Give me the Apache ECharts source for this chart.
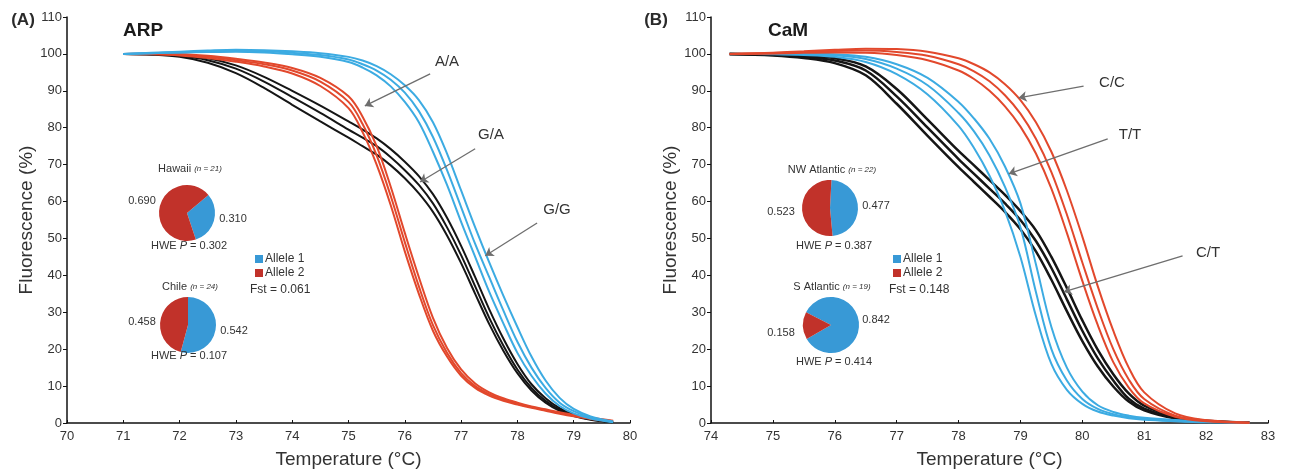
<!DOCTYPE html>
<html>
<head>
<meta charset="utf-8">
<script src="https://cdn.jsdelivr.net/npm/echarts@6/dist/echarts.min.js"></script>
<style>
  html, body { margin: 0; background: #fff; }
  #main { width: 1293px; height: 472px; }
</style>
</head>
<body>
<div id="main"></div>
<script>
// (A) ARP melting curves, temperature grid and replicate values (%)
var tempA = [71, 71.5, 72, 72.5, 73, 73.5, 74, 74.5, 75, 75.25, 75.5, 75.75, 76, 76.25, 76.5, 76.75, 77, 77.25, 77.5, 77.75, 78, 78.25, 78.5, 78.75, 79, 79.3, 79.7];
var ggA1 = [100, 100.2, 100.4, 100.5, 100.6, 100.4, 99.9, 99.2, 97.8, 96.3, 94.2, 91.2, 87, 81.5, 73.5, 64.5, 54.5, 45, 35.5, 27, 19, 12.8, 8, 4.6, 2.6, 1.2, 0.2];
var ggA2 = [100, 100.2, 100.4, 100.6, 100.8, 100.7, 100.3, 99.7, 98.5, 97.2, 95.5, 93, 89.5, 84.5, 77.5, 68.5, 58.5, 48.5, 39.5, 30.5, 22, 15, 9.5, 5.5, 3.2, 1.5, 0.3];
var ggA3 = [100, 100.3, 100.6, 100.9, 101.1, 101, 100.7, 100.2, 99.2, 98.2, 96.7, 94.5, 91.5, 87.5, 81.5, 73, 63, 53, 43.5, 34.5, 26, 18, 11.5, 6.8, 3.8, 1.8, 0.4];
var aaA1 = [100, 99.9, 99.6, 98.9, 97.9, 96.6, 94.7, 91.3, 85.3, 78.8, 70, 59, 46.5, 35, 25, 18, 12.8, 9.5, 7.4, 6, 5, 4.1, 3.3, 2.5, 1.8, 1.1, 0.4];
var aaA2 = [100, 100, 99.8, 99.2, 98.3, 97.2, 95.5, 92.5, 87, 81, 72.5, 61.5, 49, 37, 26.5, 19, 13.5, 10, 7.8, 6.3, 5.2, 4.3, 3.5, 2.7, 2, 1.3, 0.5];
var aaA3 = [100, 100.1, 100, 99.5, 98.7, 97.7, 96.2, 93.5, 88.5, 83, 75, 64, 51.5, 39.5, 28.5, 20.3, 14.5, 10.7, 8.3, 6.7, 5.5, 4.5, 3.7, 2.9, 2.2, 1.4, 0.6];
var gaA1 = [100, 99.8, 99.2, 97.6, 94.8, 90.8, 86.2, 81.7, 77.3, 75, 72.7, 69.8, 66.3, 62.2, 57.2, 50.8, 43.3, 35, 26.8, 19.6, 13.5, 8.8, 5.5, 3.3, 1.9, 0.9, 0.2];
var gaA2 = [100, 99.9, 99.5, 98.3, 96, 92.5, 88.3, 84, 79.5, 77.3, 75, 72, 68.5, 64.5, 59.5, 53, 45.5, 37, 28.5, 21, 14.5, 9.5, 6, 3.6, 2.1, 1, 0.2];
var gaA3 = [100, 100, 99.7, 98.8, 96.9, 93.8, 90, 86, 81.7, 79.5, 77.1, 74.2, 70.8, 66.9, 62, 55.6, 48, 39.5, 30.8, 22.9, 16, 10.5, 6.7, 4, 2.3, 1.1, 0.3];

// (B) CaM melting curves
var tempB = [74.3, 75, 75.5, 76, 76.5, 77, 77.5, 78, 78.25, 78.5, 78.75, 79, 79.25, 79.5, 79.75, 80, 80.25, 80.5, 80.75, 81, 81.5, 82, 82.7];
var ccB1 = [100, 100.1, 100.3, 100.4, 100.3, 99.7, 98.3, 95.5, 93.2, 90, 85.8, 80.3, 73, 63.5, 51.5, 38.5, 26.5, 16.5, 9.6, 5.3, 1.7, 0.5, 0.1];
var ccB2 = [100, 100.2, 100.5, 100.8, 100.9, 100.5, 99.5, 97.2, 95.3, 92.6, 88.8, 83.8, 77, 68, 56.5, 43.5, 31, 20, 11.8, 6.5, 2, 0.6, 0.1];
var ccB3 = [100, 100.3, 100.7, 101.1, 101.4, 101.3, 100.6, 98.8, 97.2, 95, 91.8, 87.5, 81.5, 73.5, 63, 50.5, 37, 25, 15, 8.3, 2.6, 0.8, 0.1];
var ttB1 = [100, 99.9, 99.7, 99.2, 97.8, 94.5, 89, 80.5, 74.5, 67, 57.5, 45, 29, 16, 9, 5.2, 3.1, 2, 1.3, 0.9, 0.5, 0.2, 0];
var ttB2 = [100, 100, 99.9, 99.6, 98.6, 96, 91.5, 84, 79, 72.5, 64, 53, 35.5, 20, 11.5, 6.5, 3.8, 2.4, 1.6, 1.1, 0.6, 0.3, 0];
var ttB3 = [100, 100.1, 100.1, 99.9, 99.2, 97.2, 93.5, 87, 82.5, 77, 69.5, 59.5, 43, 26, 15, 8.5, 4.8, 3, 2, 1.4, 0.8, 0.4, 0.1];
var ctB1 = [100, 99.6, 98.9, 97.5, 94.2, 86.5, 77.8, 69.3, 65.3, 61.3, 57.2, 52.5, 46.5, 38.8, 30.3, 22.2, 15.3, 9.9, 5.8, 3.4, 1.2, 0.4, 0.1];
var ctB2 = [100, 99.8, 99.3, 98.2, 95.5, 88.5, 80, 71.5, 67.5, 63.5, 59.5, 55, 49.3, 42, 33.5, 25, 17.5, 11.5, 6.6, 3.9, 1.4, 0.5, 0.1];
var ctB3 = [100, 99.9, 99.6, 98.8, 96.6, 90.5, 82.2, 73.7, 69.8, 65.8, 61.8, 57.4, 52.2, 45, 36.6, 27.8, 19.8, 13.2, 8, 4.7, 1.7, 0.6, 0.1];

// allele frequencies [Allele 1, Allele 2]
var alleleNames = ['Allele 1', 'Allele 2'];
var hawaii = [0.310, 0.690];
var chile = [0.542, 0.458];
var nwAtlantic = [0.477, 0.523];
var sAtlantic = [0.842, 0.158];
var hweP = { hawaii: 0.302, chile: 0.107, nwAtlantic: 0.387, sAtlantic: 0.414 };
var sampleN = { hawaii: 21, chile: 24, nwAtlantic: 22, sAtlantic: 19 };
var fstA = 0.061, fstB = 0.148;

// genotype arrows: [label, from (T, %), to (T, %)]
var arrowsA = [['A/A', [76.45, 94.6], [75.29, 85.9]], ['G/A', [77.25, 74.3], [76.27, 65.3]], ['G/G', [78.35, 54.2], [77.43, 45.3]]];
var arrowsB = [['C/C', [80.02, 91.3], [78.97, 88.1]], ['T/T', [80.41, 77], [78.81, 67.5]], ['C/T', [81.62, 45.3], [79.7, 35.5]]];

var BLUE = '#3cabe2', RED = '#e2482c', BLACK = '#151515';
var PIE_BLUE = '#3899d6', PIE_RED = '#c1322a';
var FONT = 'Liberation Sans, Arial, sans-serif';

var myChart = echarts.init(document.getElementById('main'));

function zip(xs, ys) {
  return xs.map(function(x, i) { return [x, ys[i]]; });
}

function curve(idx, temps, vals, color, width) {
  return {
    type: 'line', xAxisIndex: idx, yAxisIndex: idx,
    data: zip(temps, vals), showSymbol: false, smooth: 0.35,
    lineStyle: { color: color, width: width || 2 }, silent: true, z: 3
  };
}

function arrowLines(list) {
  return {
    silent: true, symbol: ['none', 'arrow'], symbolSize: 8, animation: false,
    lineStyle: { color: '#6e6e6e', width: 1.3, type: 'solid' },
    itemStyle: { color: '#6e6e6e' },
    label: { show: false },
    data: list.map(function(a) { return [{ coord: a[1] }, { coord: a[2] }]; })
  };
}

function pie(center, freq) {
  return {
    type: 'pie', center: center, radius: 28, silent: true, z: 5,
    startAngle: 90 - freq.start, clockwise: true,
    label: { show: false }, labelLine: { show: false },
    data: [
      { name: alleleNames[0], value: freq.v[0], itemStyle: { color: PIE_BLUE } },
      { name: alleleNames[1], value: freq.v[1], itemStyle: { color: PIE_RED } }
    ]
  };
}

function xAxis(idx, min, max) {
  return {
    type: 'value', gridIndex: idx, min: min, max: max, interval: 1,
    name: 'Temperature (°C)', nameLocation: 'middle', nameGap: 27,
    nameTextStyle: { fontFamily: FONT, fontSize: 19, color: '#333' },
    axisLine: { lineStyle: { color: '#111', width: 1.5 } },
    axisTick: { show: true, inside: true, length: 3, lineStyle: { color: '#111' } },
    axisLabel: { fontFamily: FONT, fontSize: 13, color: '#333', margin: 7 },
    splitLine: { show: false }
  };
}

function yAxis(idx) {
  return {
    type: 'value', gridIndex: idx, min: 0, max: 110, interval: 10,
    name: 'Fluorescence (%)', nameLocation: 'middle', nameGap: 29,
    nameTextStyle: { fontFamily: FONT, fontSize: 19, color: '#333' },
    axisLine: { show: true, lineStyle: { color: '#111', width: 1.5 } },
    axisTick: { show: true, length: 4, lineStyle: { color: '#111' } },
    axisLabel: { fontFamily: FONT, fontSize: 13, color: '#333', margin: 5 },
    splitLine: { show: false }
  };
}

function txt(x, y, text, size, extra) {
  var style = { x: x, y: y, text: text, fontFamily: FONT, fontSize: size, fill: '#333',
    textAlign: 'center', textVerticalAlign: 'middle' };
  for (var k in extra) style[k] = extra[k];
  return { type: 'text', silent: true, z: 10, style: style };
}

function popTitle(x, y, name, n) {
  return txt(x, y, '{a|' + name + '} {b|(n = ' + n + ')}', 11, {
    rich: { a: { fontFamily: FONT, fontSize: 11, fill: '#333' }, b: { fontFamily: FONT, fontSize: 8, fontStyle: 'italic', fill: '#333' } }
  });
}

function hwe(x, y, p) {
  return txt(x, y, '{a|HWE }{i|P}{a| = ' + p.toFixed(3) + '}', 11, {
    rich: { a: { fontFamily: FONT, fontSize: 11, fill: '#333' }, i: { fontFamily: FONT, fontSize: 11, fontStyle: 'italic', fill: '#333' } }
  });
}

var series = [
  curve(0, tempA, gaA1, BLACK), curve(0, tempA, gaA2, BLACK), curve(0, tempA, gaA3, BLACK),
  curve(0, tempA, aaA1, RED), curve(0, tempA, aaA2, RED), curve(0, tempA, aaA3, RED),
  curve(0, tempA, ggA1, BLUE), curve(0, tempA, ggA2, BLUE), curve(0, tempA, ggA3, BLUE),
  curve(1, tempB, ctB1, BLACK, 2.5), curve(1, tempB, ctB2, BLACK, 2.5), curve(1, tempB, ctB3, BLACK, 2.5),
  curve(1, tempB, ttB1, BLUE), curve(1, tempB, ttB2, BLUE), curve(1, tempB, ttB3, BLUE),
  curve(1, tempB, ccB1, RED), curve(1, tempB, ccB2, RED), curve(1, tempB, ccB3, RED),
  pie([187, 213], { v: hawaii, start: 50 }),
  pie([188, 325], { v: chile, start: 0 }),
  pie([830, 208], { v: nwAtlantic, start: 3 }),
  pie([831, 325], { v: sAtlantic, start: 297 })
];
series[0].markLine = arrowLines(arrowsA);
series[9].markLine = arrowLines(arrowsB);

var legendBase = {
  orient: 'vertical', data: alleleNames, icon: 'rect', itemWidth: 8, itemHeight: 8, itemGap: 2,
  selectedMode: false, textStyle: { fontFamily: FONT, fontSize: 12, color: '#333', padding: [0, 0, 0, -3] }
};

var option = {
  animation: false,
  backgroundColor: '#fff',
  grid: [
    { left: 67, right: 663, top: 17, bottom: 49, outerBoundsMode: 'none' },
    { left: 711, right: 25, top: 17, bottom: 49, outerBoundsMode: 'none' }
  ],
  xAxis: [xAxis(0, 70, 80), xAxis(1, 74, 83)],
  yAxis: [yAxis(0), yAxis(1)],
  legend: [
    Object.assign({ left: 250, top: 248 }, legendBase),
    Object.assign({ left: 888, top: 248 }, legendBase)
  ],
  graphic: [
    txt(23, 20, '(A)', 17, { fontWeight: 'bold', fill: '#2a2a2a' }),
    txt(143, 31, 'ARP', 19, { fontWeight: 'bold', fill: '#1a1a1a' }),
    txt(656, 20, '(B)', 17, { fontWeight: 'bold', fill: '#2a2a2a' }),
    txt(788, 31, 'CaM', 19, { fontWeight: 'bold', fill: '#1a1a1a' }),
    // genotype labels
    txt(447, 62, arrowsA[0][0], 15), txt(491, 135, arrowsA[1][0], 15), txt(557, 210, arrowsA[2][0], 15),
    txt(1112, 83, arrowsB[0][0], 15), txt(1130, 135, arrowsB[1][0], 15), txt(1208, 253, arrowsB[2][0], 15),
    // panel A pies
    popTitle(190, 169, 'Hawaii', sampleN.hawaii),
    txt(142, 201, hawaii[1].toFixed(3), 11), txt(233, 219, hawaii[0].toFixed(3), 11),
    hwe(189, 246, hweP.hawaii),
    popTitle(190, 287, 'Chile', sampleN.chile),
    txt(142, 322, chile[1].toFixed(3), 11), txt(234, 331, chile[0].toFixed(3), 11),
    hwe(189, 356, hweP.chile),
    txt(250, 290, 'Fst = ' + fstA.toFixed(3), 12, { textAlign: 'left' }),
    // panel B pies
    popTitle(832, 170, 'NW Atlantic', sampleN.nwAtlantic),
    txt(781, 212, nwAtlantic[1].toFixed(3), 11), txt(876, 206, nwAtlantic[0].toFixed(3), 11),
    hwe(834, 246, hweP.nwAtlantic),
    popTitle(832, 287, 'S Atlantic', sampleN.sAtlantic),
    txt(781, 333, sAtlantic[1].toFixed(3), 11), txt(876, 320, sAtlantic[0].toFixed(3), 11),
    hwe(834, 362, hweP.sAtlantic),
    txt(889, 290, 'Fst = ' + fstB.toFixed(3), 12, { textAlign: 'left' })
  ],
  series: series
};

myChart.setOption(option);
</script>
</body>
</html>
